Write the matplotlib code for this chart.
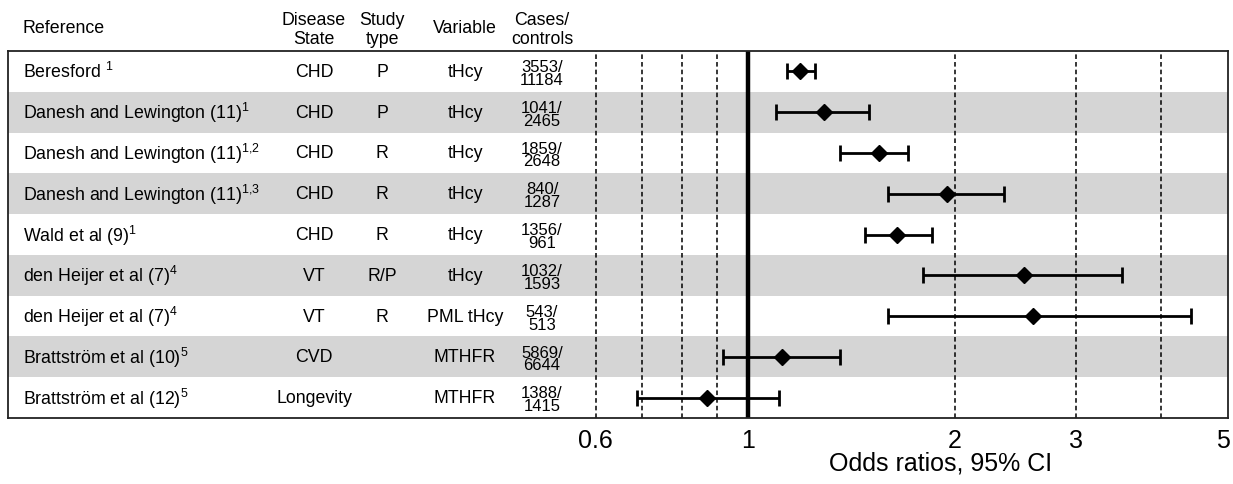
import matplotlib
matplotlib.use("Agg")
import matplotlib.pyplot as plt
from matplotlib import transforms

plt.rcParams['font.family'] = ['Liberation Sans', 'DejaVu Sans']
plt.rcParams['mathtext.default'] = 'regular'

# ---- data ----
references = ["Beresford", "Danesh and Lewington (11)", "Danesh and Lewington (11)",
              "Danesh and Lewington (11)", "Wald et al (9)", "den Heijer et al (7)",
              "den Heijer et al (7)", "Brattström et al (10)", "Brattström et al (12)"]
superscripts = ["1", "1", "1{,}2", "1{,}3", "1", "4", "4", "5", "5"]
disease = ["CHD", "CHD", "CHD", "CHD", "CHD", "VT", "VT", "CVD", "Longevity"]
study_type = ["P", "P", "R", "R", "R", "R/P", "R", "", ""]
variable = ["tHcy", "tHcy", "tHcy", "tHcy", "tHcy", "tHcy", "PML tHcy", "MTHFR", "MTHFR"]
cases = ["3553/", "1041/", "1859/", "840/", "1356/", "1032/", "543/", "5869/", "1388/"]
controls = ["11184", "2465", "2648", "1287", "961", "1593", "513", "6644", "1415"]
odds_ratio = [1.19, 1.29, 1.55, 1.95, 1.65, 2.52, 2.60, 1.12, 0.87]
ci_low = [1.14, 1.10, 1.36, 1.60, 1.48, 1.80, 1.60, 0.92, 0.69]
ci_high = [1.25, 1.50, 1.71, 2.36, 1.85, 3.50, 4.41, 1.36, 1.11]
headers = ["Reference", "Disease\nState", "Study\ntype", "Variable", "Cases/\ncontrols"]
grid_values = [0.6, 0.7, 0.8, 0.9, 2, 3, 4]
tick_values = [0.6, 1, 2, 3, 5]
tick_labels = ["0.6", "1", "2", "3", "5"]
xlabel = "Odds ratios, 95% CI"

# ---- layout ----
W, H = 1233, 485
fig = plt.figure(figsize=(W / 100, H / 100), dpi=100)
ax_left, ax_right, ax_top, ax_bottom = 8, 1228, 52, 419
ax = fig.add_axes([ax_left / W, 1 - ax_bottom / H, (ax_right - ax_left) / W, (ax_bottom - ax_top) / H])
ax.set_xscale('log')
ax.set_xlim(0.0836, 5.0)
n = len(references)
ax.set_ylim(n - 0.5, -0.5)

band_color = '#d5d5d5'
for i in range(n):
    if i % 2 == 1:
        ax.axhspan(i - 0.5, i + 0.5, color=band_color, lw=0, zorder=0)

for g in grid_values:
    ax.axvline(g, color='black', lw=1.1, ls=(0, (3, 2)), zorder=1)
ax.axvline(1, color='black', lw=3.2, zorder=2)

ypos = list(range(n))
xerr = [[o - l for o, l in zip(odds_ratio, ci_low)], [h - o for o, h in zip(odds_ratio, ci_high)]]
ax.errorbar(odds_ratio, ypos, xerr=xerr, fmt='D', color='black', ms=8.5,
            elinewidth=2.0, capsize=6, capthick=2.0, zorder=3)

ax.set_xticks(tick_values)
ax.set_xticklabels(tick_labels, fontsize=18)
ax.xaxis.set_minor_locator(matplotlib.ticker.NullLocator())
ax.tick_params(axis='x', length=0, pad=7)
ax.set_yticks([])
for s in ax.spines.values():
    s.set_linewidth(1.3)
    s.set_color('#222222')

# keep the last tick label inside the picture
last = ax.get_xticklabels()[-1]
last.set_transform(last.get_transform() + transforms.ScaledTranslation(-5 / 100, 0, fig.dpi_scale_trans))

def fx(px):
    return (px - ax_left) / (ax_right - ax_left)

def fy(py):
    return (ax_bottom - py) / (ax_bottom - ax_top)

ax.set_xlabel(xlabel, fontsize=18)
ax.xaxis.set_label_coords(fx(941), fy(451))

trans = transforms.blended_transform_factory(ax.transAxes, ax.transData)
fs = 12.8
col_x = [fx(22.7), fx(314), fx(382), fx(465), fx(542)]

for i in range(n):
    sep = " " if i == 0 else ""
    ax.text(col_x[0], i, references[i] + sep + "$^{" + superscripts[i] + "}$",
            transform=trans, ha='left', va='center', fontsize=fs)
    ax.text(col_x[1], i, disease[i], transform=trans, ha='center', va='center', fontsize=fs)
    if study_type[i]:
        ax.text(col_x[2], i, study_type[i], transform=trans, ha='center', va='center', fontsize=fs)
    ax.text(col_x[3], i, variable[i], transform=trans, ha='center', va='center', fontsize=fs)
    ax.text(col_x[4], i + 0.04, cases[i] + "\n" + controls[i], transform=trans,
            ha='center', va='center', multialignment='center', fontsize=12,
            linespacing=0.82)

# headers
for j, htxt in enumerate(headers):
    lines = htxt.split("\n")
    if len(lines) == 1:
        ax.text(col_x[j], fy(29), lines[0], transform=ax.transAxes,
                ha='left' if j == 0 else 'center', va='center', fontsize=fs)
    else:
        ax.text(col_x[j], fy(30), htxt, transform=ax.transAxes, ha='center', va='center',
                fontsize=fs, linespacing=1.2)

fig.savefig("out.png", dpi=100)
